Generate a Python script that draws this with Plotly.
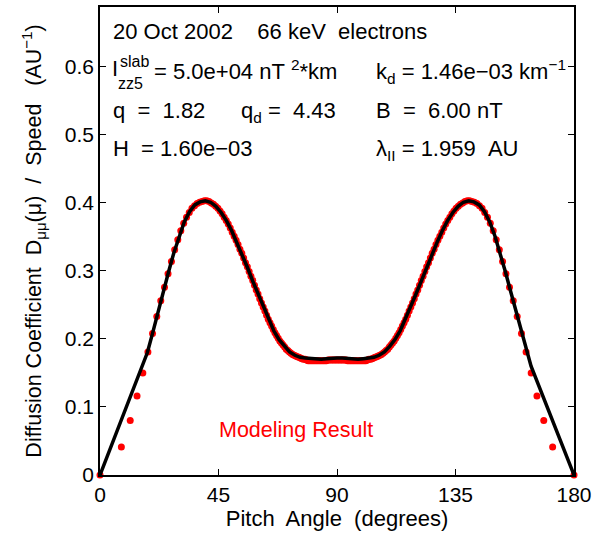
import numpy as np
import plotly.graph_objects as go

# ---- data ----
# pitch-angle cosine grid of the modeling result (mu = 1.00 ... -1.00, step 0.01)
mu_grid = np.round(np.linspace(1.0, -1.0, 201), 2)

dots_half = [
    0.000, 0.041, 0.080, 0.116, 0.150, 0.181, 0.208, 0.233, 0.256, 0.276,
    0.296, 0.314, 0.331, 0.346, 0.359, 0.370, 0.379, 0.386, 0.392, 0.396,
    0.399, 0.401, 0.402, 0.403, 0.403, 0.402, 0.400, 0.398, 0.395, 0.392,
    0.388, 0.384, 0.379, 0.374, 0.369, 0.363, 0.357, 0.351, 0.345, 0.339,
    0.332, 0.326, 0.319, 0.312, 0.306, 0.299, 0.292, 0.286, 0.279, 0.272,
    0.266, 0.259, 0.253, 0.247, 0.241, 0.235, 0.229, 0.224, 0.219, 0.214,
    0.209, 0.205, 0.201, 0.197, 0.194, 0.191, 0.188, 0.185, 0.183, 0.181,
    0.179, 0.177, 0.176, 0.175, 0.174, 0.173, 0.172, 0.171, 0.170, 0.170,
    0.169, 0.168, 0.168, 0.168, 0.168, 0.168, 0.168, 0.168, 0.168, 0.168,
    0.168, 0.168, 0.168, 0.168, 0.169, 0.169, 0.169, 0.169, 0.169, 0.169,
    0.169,
]
dots_second = [
    0.169, 0.169, 0.169, 0.169, 0.169, 0.169, 0.168, 0.168, 0.168, 0.168,
    0.168, 0.168, 0.168, 0.168, 0.168, 0.168, 0.168, 0.168, 0.168, 0.169,
    0.170, 0.170, 0.171, 0.172, 0.173, 0.174, 0.175, 0.176, 0.177, 0.179,
    0.181, 0.183, 0.185, 0.188, 0.191, 0.194, 0.197, 0.201, 0.205, 0.209,
    0.214, 0.219, 0.224, 0.229, 0.235, 0.241, 0.247, 0.253, 0.259, 0.266,
    0.272, 0.279, 0.286, 0.292, 0.299, 0.306, 0.312, 0.319, 0.326, 0.332,
    0.339, 0.345, 0.351, 0.357, 0.363, 0.369, 0.374, 0.379, 0.384, 0.388,
    0.392, 0.395, 0.398, 0.400, 0.402, 0.403, 0.403, 0.402, 0.401, 0.399,
    0.396, 0.392, 0.386, 0.379, 0.370, 0.359, 0.346, 0.331, 0.314, 0.296,
    0.276, 0.256, 0.233, 0.208, 0.181, 0.150, 0.116, 0.080, 0.041, 0.000,
]
model_dots = dots_half + dots_second

# theoretical curve (black line), pitch angle in degrees
line_angle = [
    0, 16.3, 18, 20, 22, 24, 26, 28, 30, 32, 34, 36, 38, 40, 42, 44, 46, 48,
    50, 52, 54, 56, 58, 60, 62, 64, 66, 68, 70, 72, 74, 76, 78, 80, 82, 84,
    86, 88, 90, 92, 94, 96, 98, 100, 102, 104, 106, 108, 110, 112, 114, 116,
    118, 120, 122, 124, 126, 128, 130, 132, 134, 136, 138, 140, 142, 144, 146,
    148, 150, 152, 154, 156, 158, 160, 162, 163.7, 180,
]
line_value = [
    0.000, 0.160, 0.180, 0.209, 0.240, 0.269, 0.298, 0.326, 0.351, 0.372,
    0.387, 0.397, 0.4015, 0.403, 0.401, 0.395, 0.386, 0.374, 0.359, 0.342,
    0.324, 0.305, 0.285, 0.266, 0.247, 0.229, 0.212, 0.199, 0.189, 0.181,
    0.176, 0.173, 0.172, 0.171, 0.170, 0.170, 0.171, 0.172, 0.172, 0.172,
    0.171, 0.170, 0.170, 0.171, 0.172, 0.173, 0.176, 0.181, 0.189, 0.199,
    0.212, 0.229, 0.247, 0.266, 0.285, 0.305, 0.324, 0.342, 0.359, 0.374,
    0.386, 0.395, 0.401, 0.403, 0.4015, 0.397, 0.387, 0.372, 0.351, 0.326,
    0.298, 0.269, 0.240, 0.209, 0.180, 0.160, 0.000,
]

x_ticks = [0, 45, 90, 135, 180]
y_ticks = [0, 0.1, 0.2, 0.3, 0.4, 0.5, 0.6]
y_tick_text = ["0", "0.1", "0.2", "0.3", "0.4", "0.5", "0.6"]

FONT = "Liberation Sans, Arial, Helvetica, sans-serif"
NB = "\u00a0"
TXT = 22

pitch_dots = np.degrees(np.arccos(mu_grid))

fig = go.Figure()
fig.add_trace(go.Scatter(
    x=pitch_dots, y=model_dots, mode="markers",
    marker=dict(color="#ff0000", size=7, line=dict(width=0)),
    cliponaxis=False, showlegend=False, name="Modeling Result",
))
fig.add_trace(go.Scatter(
    x=line_angle, y=line_value, mode="lines",
    line=dict(color="black", width=3.5),
    cliponaxis=False, showlegend=False, name="Theory",
))

axis_common = dict(
    showgrid=False, zeroline=False, showline=True, linecolor="black",
    linewidth=1.5, mirror="allticks", ticks="inside", ticklen=6,
    tickcolor="black", tickwidth=1, automargin=False,
    tickfont=dict(family=FONT, size=21, color="black"),
)

fig.update_layout(
    width=605, height=535,
    margin=dict(l=100, r=31, t=7, b=60),
    paper_bgcolor="white", plot_bgcolor="white",
    font=dict(family=FONT, size=TXT, color="black"),
    xaxis=dict(range=[0, 180], tickvals=x_ticks,
               title=dict(text="Pitch" + NB + " Angle" + NB + " (degrees)",
                          font=dict(family=FONT, size=TXT), standoff=6),
               **axis_common),
    yaxis=dict(range=[0, 0.688], tickvals=y_ticks, ticktext=y_tick_text,
               title=dict(text="Diffusion Coefficient" + NB + " D<sub>\u03bc\u03bc</sub>(\u03bc)"
                          + NB + " /" + NB + " Speed" + NB + NB + " (AU<sup>\u22121</sup>)",
                          font=dict(family=FONT, size=21.5), standoff=17),
               **axis_common),
)

def ann(text, x, y, size=TXT, color="black", xref="paper", yref="paper", xanchor="left"):
    fig.add_annotation(text=text, x=x, y=y, xref=xref, yref=yref,
                       xanchor=xanchor, yanchor="middle", showarrow=False,
                       font=dict(family=FONT, size=size, color=color))

def px(v):
    return (v - 100) / 474

def py(v):
    return (475 - v) / 468

ann("20 Oct 2002" + NB * 4 + "66 keV" + NB * 2 + "electrons", px(111), py(31))
ann("I", px(110), py(69))
ann("slab", px(118), py(61), size=16)
ann("zz5", px(116), py(84), size=16)
ann("= 5.0e+04 nT" + NB + "<sup>2</sup>*km", px(152), py(70))
ann("k<sub>d</sub> = 1.46e\u221203 km<sup>\u22121</sup>", px(374), py(72))
ann("q" + NB * 2 + "=" + NB * 2 + "1.82", px(111), py(110))
ann("q<sub>d</sub> =" + NB * 2 + "4.43", px(239), py(112))
ann("B" + NB * 2 + "=" + NB * 2 + "6.00 nT", px(374), py(110))
ann("H" + NB * 2 + "= 1.60e\u221203", px(111), py(148))
ann("\u03bb<sub>II</sub> = 1.959" + NB * 2 + "AU", px(374), py(150))
ann("Modeling Result", 74.6, 0.066, size=21.5, color="#ff0000", xref="x", yref="y", xanchor="center")

fig.write_html("out.html")
